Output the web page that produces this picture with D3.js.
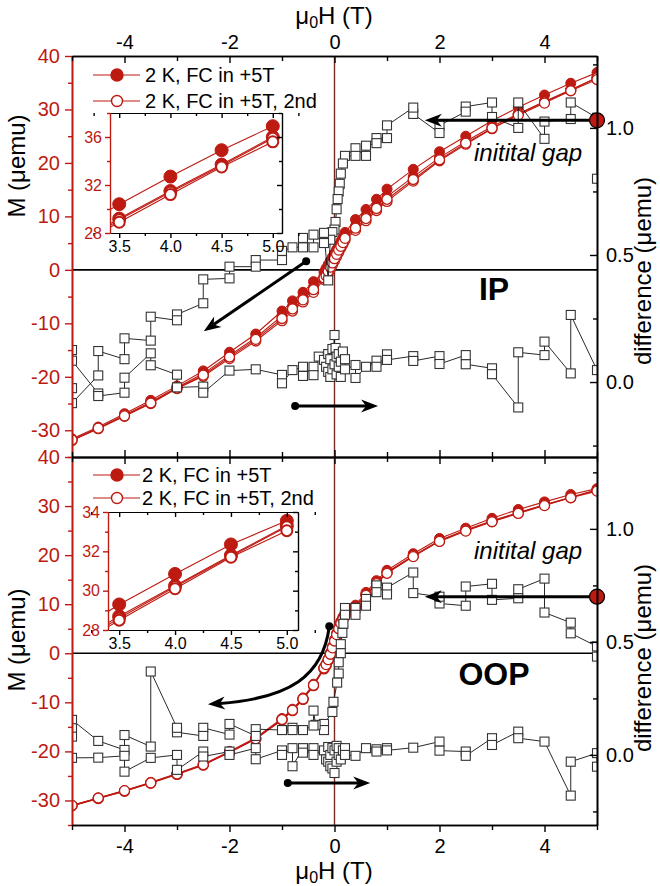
<!DOCTYPE html>
<html>
<head>
<meta charset="UTF-8">
<script src="https://d3js.org/d3.v7.min.js"></script>
<style>
  body { margin: 0; background: #fff; }
  svg { display: block; font-family: "Liberation Sans", Arial, sans-serif; }
</style>
</head>
<body>
<svg id="chart" width="660" height="886"></svg>
<script>
// field grid shared by all M(H) curves
const fieldH = [-5, -4.5, -4, -3.5, -3, -2.5, -2, -1.5, -1, -0.8, -0.6, -0.4, -0.2,
  -0.16, -0.12, -0.08, -0.04, 0, 0.04, 0.08, 0.12, 0.16,
  0.2, 0.4, 0.6, 0.8, 1, 1.5, 2, 2.5, 3, 3.5, 4, 4.5, 5]

// IP, M in uemu
const ipFill1 = [-31.6, -29.4, -26.9, -24.4, -21.7, -18.9, -15.4, -12.0, -7.7, -5.8, -4.2, -2.2, -0.4,
  0.3, 1.0, 1.7, 2.4, 3.1, 3.8, 4.6, 5.3, 6.0,
  7.0, 9.4, 11.3, 13.2, 15.1, 18.8, 22.1, 25.0, 27.9, 30.4, 32.7, 34.9, 36.9]
const ipFill2 = [-31.8, -29.6, -27.2, -24.7, -22.0, -19.4, -16.0, -12.7, -8.6, -6.8, -5.1, -3.2, -1.1,
  -0.6, 0.1, 0.9, 1.7, 2.4, 3.2, 4.0, 4.8, 5.5,
  6.2, 8.2, 10.1, 12.0, 13.7, 17.4, 21.0, 24.0, 26.8, 29.2, 31.5, 33.7, 36.0]
const ipOpen1 = [-31.9, -29.7, -27.4, -25.0, -22.2, -19.9, -16.6, -13.3, -9.5, -7.7, -6.0, -4.2, -1.8,
  -1.5, -0.7, 0.1, 0.9, 1.7, 2.5, 3.3, 4.1, 4.8,
  5.6, 7.4, 9.2, 11.1, 12.8, 16.6, 20.4, 23.5, 26.4, 29.1, 31.4, 33.6, 35.9]
const ipOpen2 = [-31.8, -29.6, -27.3, -24.9, -22.1, -19.7, -16.3, -13.0, -9.1, -7.3, -5.6, -3.7, -1.5,
  -1.1, -0.3, 0.5, 1.3, 2.1, 2.9, 3.7, 4.4, 5.1,
  5.9, 7.8, 9.6, 11.5, 13.2, 16.9, 20.6, 23.7, 26.5, 28.9, 31.2, 33.5, 35.6]

// OOP, M in uemu
const oopFill1 = [-31.0, -29.5, -28.0, -26.3, -24.5, -22.6, -20.0, -17.2, -13.3, -11.4, -9.1, -6.3, -2.9,
  -2.1, -1.1, 0.1, 1.4, 2.8, 4.1, 5.4, 6.5, 7.4,
  8.2, 9.8, 12.4, 14.8, 16.9, 20.3, 23.4, 25.5, 27.5, 29.3, 30.85, 32.35, 33.55]
const oopFill2 = [-31.1, -29.6, -28.1, -26.4, -24.6, -22.7, -20.1, -17.4, -13.5, -11.6, -9.3, -6.5, -3.1,
  -2.4, -1.4, -0.2, 1.1, 2.5, 3.8, 5.1, 6.2, 7.1,
  7.9, 9.5, 12.0, 14.4, 16.5, 19.9, 23.0, 25.1, 27.0, 28.7, 30.25, 31.8, 33.3]
const oopOpen1 = [-31.1, -29.6, -28.1, -26.5, -24.7, -22.8, -20.2, -17.5, -13.6, -11.7, -9.4, -6.6, -3.2,
  -2.5, -1.5, -0.4, 0.9, 2.3, 3.6, 4.9, 6.0, 6.9,
  7.8, 9.4, 11.9, 14.3, 16.4, 19.8, 22.9, 25.0, 26.9, 28.6, 30.2, 31.75, 33.25]
const oopOpen2 = [-31.0, -29.5, -28.0, -26.4, -24.6, -22.7, -20.1, -17.4, -13.5, -11.6, -9.3, -6.5, -3.0,
  -2.3, -1.3, -0.2, 1.1, 2.5, 3.8, 5.0, 6.1, 7.0,
  7.7, 9.3, 11.8, 14.2, 16.3, 19.7, 22.8, 24.9, 26.8, 28.5, 30.1, 31.7, 33.05]

// difference (uemu), sweep 1 goes +5 -> -5, sweep 2 goes -5 -> +5
const ipGap1H = [5, 5, 4.5, 4.5, 4, 4, 3.5, 3.5, 3, 3, 2.5, 2.5, 2, 2, 1.5, 1.5, 1, 1, 0.8, 0.8, 0.6, 0.6,
  0.4, 0.4, 0.2, 0.16, 0.12, 0.1, 0.08, 0.06, 0.04, 0.02, 0, -0.04, -0.08, -0.12, -0.2, -0.2, -0.4, -0.4,
  -0.6, -0.6, -0.8, -1, -1, -1.5, -1.5, -2, -2, -2.5, -2.5, -3, -3, -3.5, -3.5, -4, -4, -4.5, -4.5, -5, -5]
const ipGap1 = [0.80, 1.04, 1.10, 1.035, 1.025, 0.957, 1.10, 1.00, 1.043, 1.10, 1.084, 1.064, 1.01, 0.98,
  1.055, 1.08, 1.01, 0.96, 0.96, 0.94, 0.93, 0.89, 0.92, 0.89, 0.89, 0.86, 0.82, 0.78, 0.75, 0.72, 0.68,
  0.63, 0.60, 0.59, 0.56, 0.40, 0.587, 0.547, 0.58, 0.53, 0.567, 0.53, 0.53, 0.516, 0.48, 0.48, 0.454,
  0.454, 0.408, 0.404, 0.31, 0.266, 0.243, 0.257, 0.163, 0.172, 0.09, 0.122, 0.026, -0.083, -0.024]
const ipGap2H = [-5, -5, -4.5, -4.5, -4, -4, -3.5, -3.5, -3, -3, -2.5, -2.5, -2, -1.5, -1, -1, -0.8,
  -0.6, -0.6, -0.4, -0.4, -0.3, -0.2, -0.16, -0.12, -0.12, -0.08, -0.08, -0.04, -0.04, 0, 0, 0.02,
  0.04, 0.04, 0.08, 0.08, 0.12, 0.12, 0.16, 0.2, 0.2, 0.4, 0.4, 0.6, 0.8, 0.8, 1, 1, 1.5, 1.5, 2, 2,
  2.5, 2.5, 3, 3, 3.5, 3.5, 4, 4, 4.5, 4.5, 5]
const ipGap2 = [0.126, 0.084, -0.045, -0.055, -0.042, 0.017, 0.113, 0.066, 0.029, -0.021, -0.018, -0.042,
  0.045, 0.05, 0.028, -0.005, 0.047, 0.06, 0.024, 0.06, 0.027, 0.1, 0.087, 0.06, 0.11, 0.04, 0.02, 0.09,
  0.13, 0.05, 0.185, 0.07, 0.134, 0.03, 0.1, 0.06, 0.11, 0.02, 0.08, 0.12, 0.09, 0.05, 0.067, 0.016,
  0.06, 0.084, 0.06, 0.109, 0.087, 0.102, 0.083, 0.102, 0.071, 0.106, 0.07, 0.054, 0.031, -0.1, 0.117,
  0.106, 0.159, 0.034, 0.264, 0.047]

const oopGap1H = [5, 5, 4.5, 4.5, 4, 4, 3.5, 3.5, 3, 3, 2.5, 2.5, 2, 2, 1.5, 1.5, 1, 1, 0.8, 0.8, 0.6,
  0.6, 0.4, 0.4, 0.2, 0.2, 0.17, 0.15, 0.12, 0.12, 0.08, 0.08, 0.05, -0.02, -0.04, -0.2, -0.2, -0.36,
  -0.4, -0.4, -0.6, -0.8, -0.8, -1, -1.5, -1.5, -2, -2, -2.5, -2.5, -3, -3, -3.5, -3.5, -4, -4, -4.5, -5, -5]
const oopGap1 = [0.435, 0.48, 0.538, 0.585, 0.63, 0.78, 0.733, 0.693, 0.686, 0.757, 0.745, 0.66, 0.67,
  0.70, 0.716, 0.807, 0.74, 0.71, 0.75, 0.72, 0.69, 0.66, 0.65, 0.62, 0.65, 0.62, 0.58, 0.54, 0.49,
  0.45, 0.41, 0.36, 0.32, 0.235, 0.19, 0.137, 0.11, 0.133, 0.196, 0.13, 0.11, 0.12, 0.11, 0.11, 0.114,
  0.084, 0.137, 0.09, 0.12, 0.084, 0.10, 0.12, 0.369, 0.037, 0.088, 0.022, 0.062, 0.155, 0.118]
const oopGap2H = [-5, -5, -4.5, -4, -4, -3.5, -3, -3, -2.5, -2.5, -2, -2, -1.5, -1.5, -1, -1, -0.8, -0.8,
  -0.6, -0.6, -0.4, -0.4, -0.2, -0.16, -0.12, -0.12, -0.08, -0.08, -0.04, -0.04, 0, 0, 0.04, 0.04,
  0.08, 0.08, 0.12, 0.16, 0.2, 0.2, 0.4, 0.6, 0.8, 0.8, 1, 1, 1.5, 2, 2, 2.5, 2.5, 3, 3, 3.5, 3.5, 4,
  4.5, 4.5, 5, 5]
const oopGap2 = [0.081, -0.013, -0.012, -0.004, -0.074, -0.013, 0.0, -0.066, 0.015, -0.007, 0.015, 0.0,
  0.03, -0.019, 0.02, 0.0, 0.03, -0.05, 0.03, 0.01, 0.03, 0.0, 0.02, -0.02, 0.035, -0.03, 0.0, -0.05,
  0.03, -0.06, 0.02, -0.08, 0.04, -0.03, 0.0, 0.03, -0.02, 0.02, 0.03, 0.0, -0.004, 0.03, 0.025, 0.015,
  0.03, 0.02, 0.032, 0.059, 0.019, 0.015, -0.004, 0.074, 0.044, 0.103, 0.074, 0.059, -0.18, -0.03,
  0.008, -0.052]

const legendLabels = ['2 K, FC in +5T', '2 K, FC in +5T, 2nd']
const xTickLabels = [-4, -2, 0, 2, 4]

const red = '#bd1a12'
const font = '"Liberation Sans", Arial, sans-serif'
const svg = d3.select('#chart')
const x = d3.scaleLinear().domain([-5, 5]).range([72, 597])
// plain hyphen minus, like the original figure
const plain = d => String(d)
const oneDec = d => d.toFixed(1)

let styleAxis = (sel, color, size, width) => {
  sel.attr('font-family', font).attr('font-size', size)
  sel.select('.domain').attr('stroke', color).attr('stroke-width', width || 1.6)
  sel.selectAll('.tick line').attr('stroke', color).attr('stroke-width', 1.4)
  sel.selectAll('.tick text').attr('fill', color)
}

let drawCurves = (g, xs, ys, curves, rFill, rOpen, openWidth) => {
  curves.forEach(c => {
    let pts = d3.zip(fieldH, c.values)
    g.append('path').datum(pts)
      .attr('d', d3.line().x(d => xs(d[0])).y(d => ys(d[1])))
      .attr('fill', 'none').attr('stroke', red).attr('stroke-width', 1.1)
    g.selectAll(null).data(pts).enter().append('circle')
      .attr('cx', d => xs(d[0])).attr('cy', d => ys(d[1]))
      .attr('r', c.filled ? rFill : rOpen)
      .attr('fill', c.filled ? red : '#fff')
      .attr('stroke', red).attr('stroke-width', c.filled ? 1 : openWidth)
  })
}

let arrowHead = (g, tx, ty, ang) => {
  let pts = [[0, 0], [-17, -6.5], [-12, 0], [-17, 6.5]].map(p => [
    tx + p[0] * Math.cos(ang) - p[1] * Math.sin(ang),
    ty + p[0] * Math.sin(ang) + p[1] * Math.cos(ang)])
  g.append('polygon').attr('points', pts.map(p => p.join(',')).join(' ')).attr('fill', '#000')
}

let straightArrow = (g, x1, y1, x2, y2, dot) => {
  let ang = Math.atan2(y2 - y1, x2 - x1)
  g.append('line').attr('x1', x1).attr('y1', y1)
    .attr('x2', x2 - 12 * Math.cos(ang)).attr('y2', y2 - 12 * Math.sin(ang))
    .attr('stroke', '#000').attr('stroke-width', 3)
  arrowHead(g, x2, y2, ang)
  if (dot) g.append('circle').attr('cx', x1).attr('cy', y1).attr('r', 4).attr('fill', '#000')
}

let drawPanel = (p) => {
  let yM = d3.scaleLinear().domain([-35, 40]).range([p.bottom, p.top])
  let yD = d3.scaleLinear().domain(p.diffDomain).range([p.bottom, p.top])
  let g = svg.append('g')

  svg.append('clipPath').attr('id', 'clip-' + p.name).append('rect')
    .attr('x', 72).attr('y', p.top).attr('width', 525).attr('height', p.bottom - p.top)

  g.append('line').attr('x1', 72).attr('x2', 597).attr('y1', yM(0)).attr('y2', yM(0))
    .attr('stroke', '#000').attr('stroke-width', 1.6)
  g.append('line').attr('x1', x(0)).attr('x2', x(0)).attr('y1', p.top).attr('y2', p.bottom)
    .attr('stroke', '#7a2a22').attr('stroke-width', 1.4)

  let plot = g.append('g').attr('clip-path', `url(#clip-${p.name})`)
  drawCurves(plot, x, yM, p.curves, 5, 5, 1.3)

  p.gaps.forEach(gp => {
    let pts = d3.zip(gp[0], gp[1])
    plot.append('path').datum(pts)
      .attr('d', d3.line().x(d => x(d[0])).y(d => yD(d[1])))
      .attr('fill', 'none').attr('stroke', '#111').attr('stroke-width', 0.9)
    plot.selectAll(null).data(pts).enter().append('rect')
      .attr('x', d => x(d[0]) - 4.5).attr('y', d => yD(d[1]) - 4.5)
      .attr('width', 9).attr('height', 9)
      .attr('fill', '#fff').attr('stroke', '#333').attr('stroke-width', 1.1)
  })

  // annotations
  let ann = g.append('g')
  straightArrow(ann, x(5), yD(p.gapStart), x(1.72), yD(p.gapStart), false)
  ann.append('circle').attr('cx', x(5)).attr('cy', yD(p.gapStart)).attr('r', 7.5)
    .attr('fill', red).attr('stroke', '#000').attr('stroke-width', 1.2)
  ann.append('text').attr('x', 474).attr('y', yD(p.gapStart) + p.gapTextDy)
    .attr('font-size', 24).attr('font-style', 'italic').attr('font-family', font).text('initital gap')
  ann.append('text').attr('x', 494).attr('y', p.labelY).attr('text-anchor', 'middle')
    .attr('font-size', 32).attr('font-weight', 'bold').attr('font-family', font).text(p.label)
  straightArrow(ann, x(p.rightArrow[0]), yD(p.rightArrow[2]), x(p.rightArrow[1]), yD(p.rightArrow[2]), true)
  p.leftArrow(ann, yM)

  // axes
  let left = g.append('g').attr('transform', 'translate(72,0)')
  left.append('g').call(d3.axisLeft(yM).tickValues(d3.range(-35, 41, 10)).tickSize(4).tickFormat('').tickSizeOuter(0))
  left.append('g').call(d3.axisLeft(yM).tickValues(d3.range(-30, 41, 10)).tickSize(7).tickPadding(5)
    .tickFormat(plain).tickSizeOuter(0))
  left.selectAll('g').each(function () { styleAxis(d3.select(this), red, 20) })

  let right = g.append('g').attr('transform', 'translate(597,0)')
  right.append('g').call(d3.axisRight(yD).tickValues([-0.25, 0.25, 0.75, 1.25]).tickSize(-4).tickFormat('').tickSizeOuter(0))
  right.append('g').call(d3.axisRight(yD).tickValues([0, 0.5, 1]).tickSize(-7).tickPadding(9)
    .tickFormat(oneDec).tickSizeOuter(0))
  right.selectAll('g').each(function () { styleAxis(d3.select(this), '#000', 20) })

  let minorX = [-5, -3, -1, 1, 3, 5]
  let topAx = g.append('g').attr('transform', `translate(0,${p.top})`)
  topAx.append('g').call(d3.axisTop(x).tickValues(minorX).tickSize(-5).tickFormat('').tickSizeOuter(0))
  topAx.append('g').call(d3.axisTop(x).tickValues(xTickLabels).tickSize(-7).tickPadding(7)
    .tickFormat(p.topLabels ? plain : '').tickSizeOuter(0))
  topAx.selectAll('g').each(function () { styleAxis(d3.select(this), '#000', 20) })

  let botAx = g.append('g').attr('transform', `translate(0,${p.bottom})`)
  let outward = p.bottomLabels ? 1 : -1
  botAx.append('g').call(d3.axisBottom(x).tickValues(minorX).tickSize(5 * outward).tickFormat('').tickSizeOuter(0))
  botAx.append('g').call(d3.axisBottom(x).tickValues(xTickLabels).tickSize(7 * outward).tickPadding(7)
    .tickFormat(p.bottomLabels ? plain : '').tickSizeOuter(0))
  botAx.selectAll('g').each(function () { styleAxis(d3.select(this), '#000', 20) })

  // axis titles
  g.append('text').attr('transform', `translate(25,${p.mTitleY}) rotate(-90)`)
    .attr('text-anchor', 'middle').attr('font-size', 24).attr('font-family', font).text('M (μemu)')
  g.append('text').attr('transform', `translate(651,${p.dTitleY}) rotate(-90)`)
    .attr('text-anchor', 'middle').attr('font-size', 24).attr('font-family', font).text('difference (μemu)')

  // inset
  let b = p.inset
  let ix = d3.scaleLinear().domain(b.xDomain).range([b.left, b.right])
  let iy = d3.scaleLinear().domain(b.yDomain).range([b.bottom, b.top])
  let ins = g.append('g')
  ins.append('rect').attr('x', b.left).attr('y', b.top).attr('width', b.right - b.left)
    .attr('height', b.bottom - b.top).attr('fill', '#fff')
  svg.append('clipPath').attr('id', 'inclip-' + p.name).append('rect')
    .attr('x', b.left).attr('y', b.top).attr('width', b.right - b.left).attr('height', b.bottom - b.top)
  drawCurves(ins.append('g').attr('clip-path', `url(#inclip-${p.name})`), ix, iy, p.curves, 6.5, 5.5, 2)
  let iMinorX = [3.25, 3.75, 4.25, 4.75, 5.25]
  let iMajorX = [3.5, 4, 4.5, 5]
  let ib = ins.append('g').attr('transform', `translate(0,${b.bottom})`)
  ib.append('g').call(d3.axisBottom(ix).tickValues(iMinorX).tickSize(3).tickFormat('').tickSizeOuter(0))
  ib.append('g').call(d3.axisBottom(ix).tickValues(iMajorX).tickSize(5).tickPadding(3)
    .tickFormat(oneDec).tickSizeOuter(0))
  ib.selectAll('g').each(function () { styleAxis(d3.select(this), '#000', 16, 1.2) })
  let it = ins.append('g').attr('transform', `translate(0,${b.top})`)
  it.append('g').call(d3.axisTop(ix).tickValues(iMinorX).tickSize(-3).tickFormat('').tickSizeOuter(0))
  it.append('g').call(d3.axisTop(ix).tickValues(iMajorX).tickSize(-5).tickFormat('').tickSizeOuter(0))
  it.selectAll('g').each(function () { styleAxis(d3.select(this), '#000', 16, 1.2) })
  let il = ins.append('g').attr('transform', `translate(${b.left},0)`)
  il.append('g').call(d3.axisLeft(iy).tickValues(b.yMinor).tickSize(3).tickFormat('').tickSizeOuter(0))
  il.append('g').call(d3.axisLeft(iy).tickValues(b.yMajor).tickSize(5).tickPadding(3)
    .tickFormat(plain).tickSizeOuter(0))
  il.selectAll('g').each(function () { styleAxis(d3.select(this), red, 16, 1.2) })
  let ir = ins.append('g').attr('transform', `translate(${b.right},0)`)
  ir.append('g').call(d3.axisRight(iy).tickValues(b.yMinor).tickSize(-3).tickFormat('').tickSizeOuter(0))
  ir.append('g').call(d3.axisRight(iy).tickValues(b.yMajor).tickSize(-5).tickFormat('').tickSizeOuter(0))
  ir.selectAll('g').each(function () { styleAxis(d3.select(this), '#000', 16, 1.2) })

  // legend
  let lg = g.append('g')
  legendLabels.forEach((t, i) => {
    let ly = p.legendY[i]
    lg.append('line').attr('x1', 93).attr('x2', 140).attr('y1', ly).attr('y2', ly)
      .attr('stroke', red).attr('stroke-width', 1.2)
    lg.append('circle').attr('cx', 117).attr('cy', ly).attr('r', i === 0 ? 6 : 5.5)
      .attr('fill', i === 0 ? red : '#fff').attr('stroke', red).attr('stroke-width', 1.4)
    lg.append('text').attr('x', p.legendX).attr('y', ly + 7).attr('font-size', 20)
      .attr('font-family', font).text(t)
  })
}

let xTitle = (y) => {
  let t = svg.append('text').attr('x', 334).attr('y', y).attr('text-anchor', 'middle')
    .attr('font-size', 24).attr('font-family', font)
  t.append('tspan').text('μ')
  t.append('tspan').text('0').attr('font-size', 16).attr('dy', 4)
  t.append('tspan').text('H (T)').attr('dy', -4)
}

drawPanel({
  name: 'ip', top: 56, bottom: 457, diffDomain: [-0.295, 1.283],
  curves: [{values: ipFill1, filled: true}, {values: ipFill2, filled: true},
           {values: ipOpen1, filled: false}, {values: ipOpen2, filled: false}],
  gaps: [[ipGap1H, ipGap1], [ipGap2H, ipGap2]],
  gapStart: 1.03, gapTextDy: 41, label: 'IP', labelY: 300,
  rightArrow: [-0.75, 0.83, -0.094],
  leftArrow: (g, yM) => straightArrow(g, x(-0.54), yM(1.6), x(-2.49), yM(-11.5), true),
  topLabels: true, bottomLabels: false, mTitleY: 166, dTitleY: 271,
  inset: {left: 110, right: 282, top: 113, bottom: 233, xDomain: [3.41, 5.09], yDomain: [28, 38],
          yMajor: [28, 32, 36], yMinor: [30, 34, 38]},
  legendY: [75, 101], legendX: 145
})

drawPanel({
  name: 'oop', top: 457, bottom: 825, diffDomain: [-0.31, 1.318],
  curves: [{values: oopFill1, filled: true}, {values: oopFill2, filled: true},
           {values: oopOpen1, filled: false}, {values: oopOpen2, filled: false}],
  gaps: [[oopGap1H, oopGap1], [oopGap2H, oopGap2]],
  gapStart: 0.70, gapTextDy: -38, label: 'OOP', labelY: 685,
  rightArrow: [-0.89, 0.68, -0.124],
  leftArrow: (g, yM) => {
    let sx = x(-0.1), sy = yM(5.5), tx = x(-2.41), ty = yM(-10.4)
    let c1 = [sx - 6, sy + 50], c2 = [sx - 40, ty - 6]
    let ang = Math.atan2(ty - c2[1], tx - c2[0])
    let ex = tx - 12 * Math.cos(ang), ey = ty - 12 * Math.sin(ang)
    g.append('path').attr('d', `M${sx},${sy} C${c1[0]},${c1[1]} ${c2[0]},${c2[1]} ${ex},${ey}`)
      .attr('fill', 'none').attr('stroke', '#000').attr('stroke-width', 3)
    arrowHead(g, tx, ty, ang)
    g.append('circle').attr('cx', sx).attr('cy', sy).attr('r', 4).attr('fill', '#000')
  },
  topLabels: false, bottomLabels: true, mTitleY: 640, dTitleY: 658,
  inset: {left: 108, right: 298, top: 512, bottom: 630, xDomain: [3.40, 5.10], yDomain: [28, 34],
          yMajor: [28, 30, 32, 34], yMinor: [29, 31, 33]},
  legendY: [475, 498], legendX: 142
})

xTitle(24)
xTitle(879)
</script>
</body>
</html>
